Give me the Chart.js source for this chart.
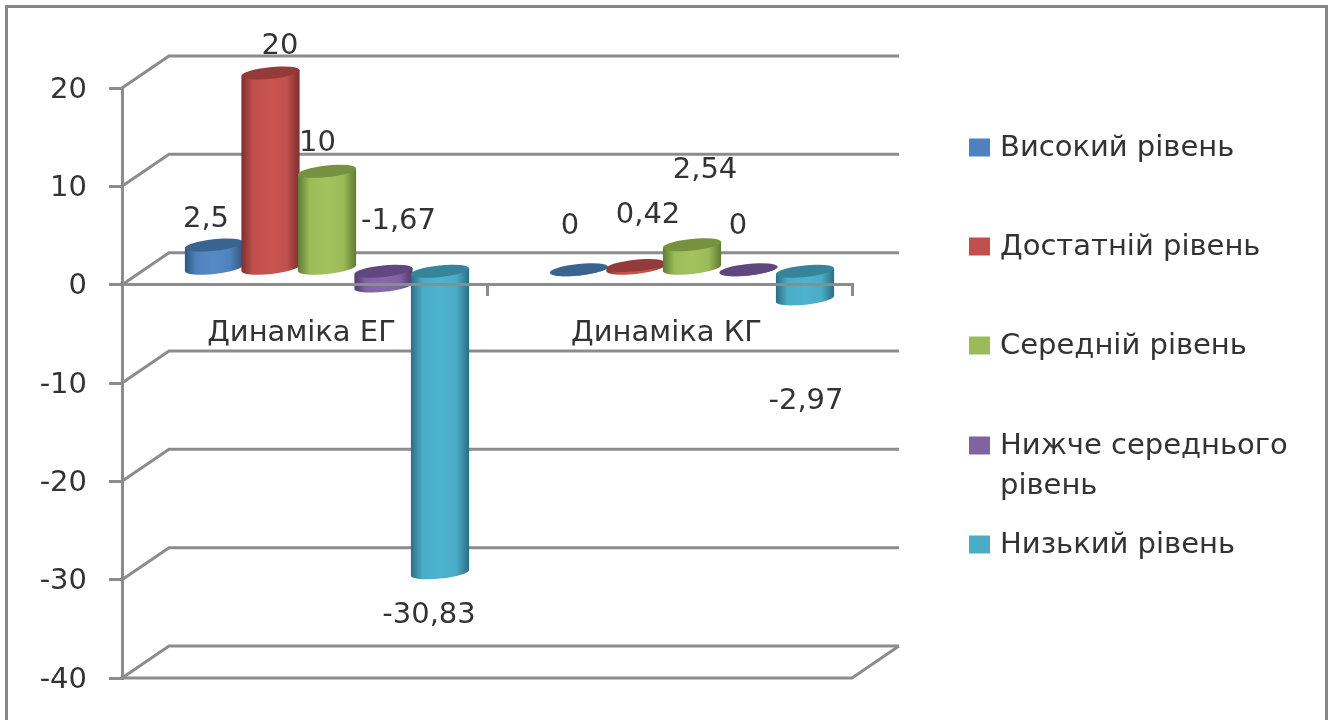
<!DOCTYPE html>
<html lang="uk">
<head>
    <meta charset="UTF-8">
    <title>Динаміка рівнів</title>
    <script src="https://cdn.jsdelivr.net/npm/chart.js"></script>
    <style>
        body { margin: 0; background: #fff; overflow: hidden; }
        #frame { position: absolute; left: 5px; top: 5px; width: 1317px; height: 720px; border: 3px solid #868686; border-bottom: none; }
        canvas { position: absolute; left: 0; top: 0; filter: blur(0.6px); }
    </style>
</head>
<body>
    <div id="frame"></div>
    <canvas id="chart" width="1331" height="720"></canvas>

    <script>
        const categories = ['Динаміка ЕГ', 'Динаміка КГ'];
        const seriesNames = ['Високий рівень', 'Достатній рівень', 'Середній рівень', 'Нижче середнього рівень', 'Низький рівень'];
        const highLevel = [2.5, 0];
        const sufficientLevel = [20, 0.42];
        const middleLevel = [10, 2.54];
        const belowMiddleLevel = [-1.67, 0];
        const lowLevel = [-30.83, -2.97];
        const yTicks = [-40, -30, -20, -10, 0, 10, 20];

        const seriesValues = [highLevel, sufficientLevel, middleLevel, belowMiddleLevel, lowLevel];
        const colors = ['#4F81BD', '#C0504D', '#9BBB59', '#8064A2', '#4BACC6'];
        const lightColors = ['#568AC6', '#C95450', '#A2C35E', '#8869AB', '#4DB3CE'];
        const capColors = ['#3A6490', '#943A38', '#76923F', '#60487E', '#37849A'];
        const edgeColors = ['#2F5680', '#7E2E2C', '#5F7A30', '#4E3A69', '#2A6E82'];

        const fontName = '"DejaVu Sans", sans-serif';
        const fontSize = 29;
        const textColor = '#333333';
        const lineColor = '#8c8c8c';

        // depth of the fake 3D box, and where the bars sit inside it
        const depthX = 47, depthY = -32;
        const barShiftX = 22.5, barShiftY = -15;
        const tilt = -6 * Math.PI / 180;

        // label offset from the end of each bar, [series][category]
        const labelOffsets = [
            [[-8, -26], [-9, -43]],
            [[9.5, -27], [12.5, -50]],
            [[-9.5, -28], [13, -74]],
            [[15, -65], [-10.5, -43]],
            [[-11, 43], [1, 103]]
        ];

        const legendRows = [
            { y: 148, lines: ['Високий рівень'] },
            { y: 247, lines: ['Достатній рівень'] },
            { y: 346, lines: ['Середній рівень'] },
            { y: 446, lines: ['Нижче середнього', 'рівень'] },
            { y: 545, lines: ['Низький рівень'] }
        ];

        function drawCylinder(ctx, el, i) {
            const cx = el.x + barShiftX;
            const top = Math.min(el.y, el.base) + barShiftY;
            const bottom = Math.max(el.y, el.base) + barShiftY;
            const rx = el.width / 2 + 1, ry = 5.8;
            const dx = rx * Math.cos(tilt), dy = -rx * Math.sin(tilt);

            const grad = ctx.createLinearGradient(cx - rx, 0, cx + rx, 0);
            grad.addColorStop(0, edgeColors[i]);
            grad.addColorStop(0.2, colors[i]);
            grad.addColorStop(0.5, lightColors[i]);
            grad.addColorStop(0.78, colors[i]);
            grad.addColorStop(1, edgeColors[i]);

            ctx.fillStyle = grad;
            ctx.beginPath();
            ctx.moveTo(cx + dx, top - dy);
            ctx.lineTo(cx - dx, top + dy);
            ctx.lineTo(cx - dx, bottom + dy);
            ctx.ellipse(cx, bottom, rx, ry, tilt, Math.PI, 0, true);
            ctx.closePath();
            ctx.fill();

            ctx.fillStyle = capColors[i];
            ctx.beginPath();
            ctx.ellipse(cx, top, rx, ry, tilt, 0, Math.PI * 2);
            ctx.fill();
        }

        const box3d = {
            id: 'box3d',
            beforeDatasetsDraw(chart) {
                const ctx = chart.ctx;
                const { left, right } = chart.chartArea;
                const y = chart.scales.y;
                ctx.save();
                ctx.strokeStyle = lineColor;
                ctx.lineWidth = 3;
                yTicks.forEach(v => {
                    const py = y.getPixelForValue(v);
                    ctx.beginPath();
                    ctx.moveTo(left, py);
                    ctx.lineTo(left + depthX, py + depthY);
                    ctx.lineTo(right + depthX, py + depthY);
                    ctx.stroke();
                });
                // floor
                const floor = y.getPixelForValue(yTicks[0]);
                ctx.beginPath();
                ctx.moveTo(left, floor);
                ctx.lineTo(right, floor);
                ctx.lineTo(right + depthX, floor + depthY);
                ctx.stroke();

                seriesValues.forEach((s, i) => {
                    chart.getDatasetMeta(i).data.forEach(el => drawCylinder(ctx, el, i));
                });
                ctx.restore();
            },
            // cylinders are drawn above, skip the flat bars
            beforeDatasetDraw() {
                return false;
            },
            afterDraw(chart) {
                const ctx = chart.ctx;
                ctx.save();
                ctx.font = fontSize + 'px ' + fontName;
                ctx.fillStyle = textColor;
                ctx.textBaseline = 'middle';

                ctx.textAlign = 'center';
                seriesValues.forEach((s, i) => {
                    chart.getDatasetMeta(i).data.forEach((el, j) => {
                        const off = labelOffsets[i][j];
                        const text = String(s[j]).replace('.', ',');
                        ctx.fillText(text, el.x + barShiftX + off[0], el.y + barShiftY + off[1]);
                    });
                });

                // legend, one row wraps so it is laid out here
                ctx.textAlign = 'left';
                legendRows.forEach((row, i) => {
                    ctx.fillStyle = colors[i];
                    ctx.fillRect(969, row.y - 9.5, 21, 18);
                    ctx.fillStyle = textColor;
                    row.lines.forEach((line, k) => ctx.fillText(line, 1000, row.y + k * 40));
                });
                ctx.restore();
            }
        };

        new Chart(document.getElementById('chart').getContext('2d'), {
            type: 'bar',
            data: {
                labels: categories,
                datasets: seriesNames.map((name, i) => ({
                    label: name,
                    data: seriesValues[i],
                    backgroundColor: colors[i]
                }))
            },
            options: {
                responsive: false,
                animation: false,
                layout: { padding: { left: 0, right: 479, top: 88, bottom: 42 } },
                categoryPercentage: 0.774,
                barPercentage: 1,
                plugins: { legend: { display: false }, tooltip: { enabled: false } },
                scales: {
                    x: {
                        position: { y: 0 },
                        grid: { drawOnChartArea: false, color: lineColor, lineWidth: 3, tickLength: 10 },
                        border: { color: lineColor, width: 3, z: 1 },
                        ticks: {
                            font: { family: fontName, size: fontSize },
                            color: textColor,
                            padding: 21,
                            labelOffset: -3,
                            maxRotation: 0
                        }
                    },
                    y: {
                        min: -40,
                        max: 20,
                        afterBuildTicks(axis) {
                            axis.ticks = yTicks.map(v => ({ value: v }));
                        },
                        afterFit(axis) {
                            axis.width = 122;
                        },
                        grid: { drawOnChartArea: false, color: lineColor, lineWidth: 3, tickLength: 13 },
                        border: { color: lineColor, width: 3 },
                        ticks: {
                            font: { family: fontName, size: fontSize },
                            color: textColor,
                            padding: 22,
                            labelOffset: 2,
                            callback: v => String(v)
                        }
                    }
                }
            },
            plugins: [box3d]
        });
    </script>
</body>
</html>
